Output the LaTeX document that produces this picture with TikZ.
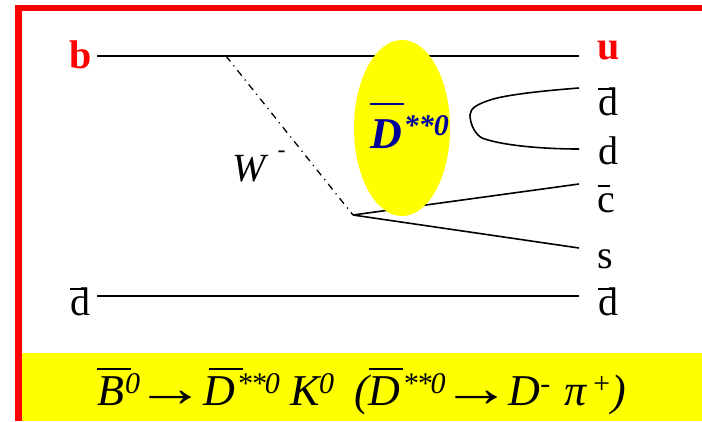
\documentclass[tikz,border=0pt]{standalone}
\usetikzlibrary{shapes.geometric}
\usepackage{graphicx}
\usepackage{fontspec}
\setmainfont{Liberation Serif}
\definecolor{frred}{RGB}{255,0,0}
\definecolor{band}{RGB}{255,255,0}
\definecolor{dblue}{RGB}{0,0,153}
% #1 raise, #2 bar shift, #3 bar width, #4 glyph
\def\ovbar#1#2#3#4{\rlap{\hspace{#2}\raise #1\hbox{\vrule width #3 height 2pt depth 0pt}}#4}
\def\qbar#1#2#3{\rlap{\hspace{#1}\raise 25pt\hbox{\vrule width #2 height 1.6pt depth 0pt}}#3}
\def\sps#1{\raise 12pt\hbox{\fontsize{30}{30}\selectfont #1}}
\def\spss{\raise 12pt\hbox{\fontsize{30}{30}\selectfont *\hspace{-1pt}*\hspace{-1pt}0}}
\def\spsb#1{\raise 13pt\hbox{\fontsize{30}{30}\selectfont #1}}
\def\bigarrow{\hbox to 39pt{\hss\lower 1.5pt\hbox{\scalebox{1.3}[1]{\upshape\fontsize{54}{54}\selectfont →}}\hss}}
\tikzset{
  quark/.style={line width=2pt,black},
  thin quark/.style={line width=1.6pt,black},
  lab/.style={font=\fontsize{40}{40}\selectfont,anchor=base,inner sep=0pt},
  redlab/.style={lab,font=\fontsize{40}{40}\selectfont\bfseries,text=frred},
}
\begin{document}
\begin{tikzpicture}[x=1pt,y=-1pt]
\useasboundingbox (0,0) rectangle (702,421);
\fill[frred] (15,5) rectangle (702,11);
\fill[frred] (15,5) rectangle (22,421);
\fill[band] (22,353) rectangle (702,421);
\coordinate (bL) at (97,56);
\coordinate (bR) at (579,56);
\coordinate (dL) at (97,296);
\coordinate (dR) at (579,296);
\coordinate (wTop) at (226,56);
\coordinate (wV) at (353,215);
\coordinate (cEnd) at (579,184);
\coordinate (sEnd) at (579,248);
\coordinate (qA) at (579,88);
\coordinate (qB) at (579,149);
\draw[quark] (bL) -- (bR);
\draw[quark] (dL) -- (dR);
\draw[thin quark] (wV) -- (cEnd);
\draw[thin quark] (wV) -- (sEnd);
\node[ellipse,fill=band,minimum width=96pt,minimum height=176pt,inner sep=0pt] (blob) at (402,128) {};
\draw[line width=1.3pt,dash pattern=on 7pt off 5pt on 1.2pt off 5pt] (wTop) -- (wV);
\draw[thin quark] (qA) .. controls (540,91) and (505,95) .. (490,100)
  .. controls (478,104) and (470,108) .. (470,115)
  .. controls (470,125) and (476,135) .. (482,138)
  .. controls (500,145) and (540,149) .. (qB);
\node[redlab] (b) at (81,68) {b};
\node[redlab] (u) at (609,59) {u};
\node[lab] (db1) at (608,115) {\qbar{0pt}{14pt}{d}};
\node[lab] (d) at (608,164) {d};
\node[lab] (cb) at (606,212) {\qbar{1pt}{12pt}{c}};
\node[lab] (s) at (605,268) {s};
\node[lab] (db2) at (608,315) {\qbar{0pt}{14pt}{d}};
\node[lab] (db3) at (80,315) {\qbar{0pt}{14pt}{d}};
\node[lab,anchor=base west] (W) at (232,181) {\itshape W\raise 24pt\hbox{\hspace{12pt}\fontsize{24}{24}\selectfont -}};
\node[anchor=base west,inner sep=0pt,text=dblue,font=\fontsize{44}{44}\selectfont\bfseries\itshape] (dss) at (370,148) {\ovbar{43pt}{0pt}{34pt}{D}\hspace{2pt}\spsb{**0}};
\node[anchor=base west,inner sep=0pt,font=\fontsize{44}{44}\selectfont\itshape] (eq) at (97,405) {\ovbar{35pt}{0pt}{34pt}{B}\hspace{1pt}\sps{0}\hspace{11pt}\bigarrow\hspace{13pt}\ovbar{35pt}{6pt}{34pt}{D}\hspace{2pt}\spss\hspace{11pt}K\hspace{-1pt}\sps{0}\hspace{20pt}(\ovbar{35pt}{0pt}{34pt}{D}\hspace{2pt}\spss\hspace{11pt}\bigarrow\hspace{13pt}D\sps{-}\hspace{14pt}π\hspace{5pt}\sps{+})};
\end{tikzpicture}
\end{document}
